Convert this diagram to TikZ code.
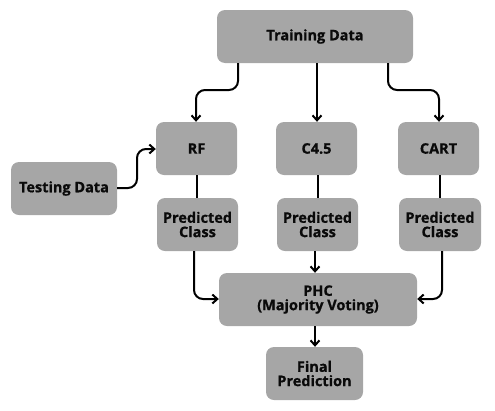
\documentclass[tikz,border=0pt]{standalone}
\usepackage{fontspec}
\setmainfont{Open Sans}[BoldFeatures={FakeBold=0.8}]
\usetikzlibrary{arrows.meta}
\definecolor{boxgray}{HTML}{A6A6A6}
\definecolor{txt}{HTML}{0A0A0A}
\tikzset{
  box/.style={fill=boxgray, rounded corners=8pt, inner sep=0pt, align=center,
    font=\fontsize{14.5}{14.3}\selectfont\bfseries, text=txt},
  conn/.style={line width=2pt, rounded corners=9pt, draw=black},
  arr/.style={conn, -{Straight Barb[length=5pt,width=9pt,line width=2pt]}}
}
\begin{document}
\begin{tikzpicture}[x=1pt,y=-1pt]
\useasboundingbox (0,0) rectangle (495,410);
\node[box, minimum width=196pt, minimum height=53pt] (train) at (315,36.5) {Training Data};
\node[box, minimum width=81pt, minimum height=53pt] (rf) at (196.5,148.5) {RF};
\node[box, minimum width=81pt, minimum height=53pt] (c45) at (316.5,148.5) {C4.5};
\node[box, minimum width=81pt, minimum height=53pt] (cart) at (438.5,148.5) {CART};
\node[box, minimum width=106pt, minimum height=53pt] (test) at (64,188.5) {Testing Data};
\node[box, minimum width=81pt, minimum height=53pt] (p1) at (197.5,224.5) {Predicted\\Class};
\node[box, minimum width=81pt, minimum height=53pt] (p2) at (317.5,224.5) {Predicted\\Class};
\node[box, minimum width=82pt, minimum height=53pt] (p3) at (440,224.5) {Predicted\\Class};
\node[box, minimum width=198pt, minimum height=53pt] (phc) at (318,299.5) {PHC\\(Majority Voting)};
\node[box, minimum width=97pt, minimum height=53pt] (final) at (314.5,373.5) {Final\\Prediction};

\draw[arr] (train.south -| 238,0) |- (217,90) -| (rf.north -| 196,0);
\draw[arr] (train.south -| 317,0) -- (c45.north -| 317,0);
\draw[arr] (train.south -| 388,0) |- (415,90) -| (cart.north -| 439,0);
\draw[arr] (test.east |- 0,188) -| (137,168) |- (rf.west |- 0,149);
\draw[conn] (rf.south -| 197,0) -- (p1.north -| 197,0);
\draw[conn] (c45.south -| 318,0) -- (p2.north -| 318,0);
\draw[conn] (cart.south -| 440,0) -- (p3.north -| 440,0);
\draw[arr] (p1.south -| 194,0) |- (phc.west |- 0,299);
\draw[arr] (p2.south -| 315,0) -- (phc.north -| 315,0);
\draw[arr] (p3.south -| 442,0) |- (phc.east |- 0,299);
\draw[arr] (phc.south -| 315,0) -- (final.north -| 315,0);
\end{tikzpicture}
\end{document}
